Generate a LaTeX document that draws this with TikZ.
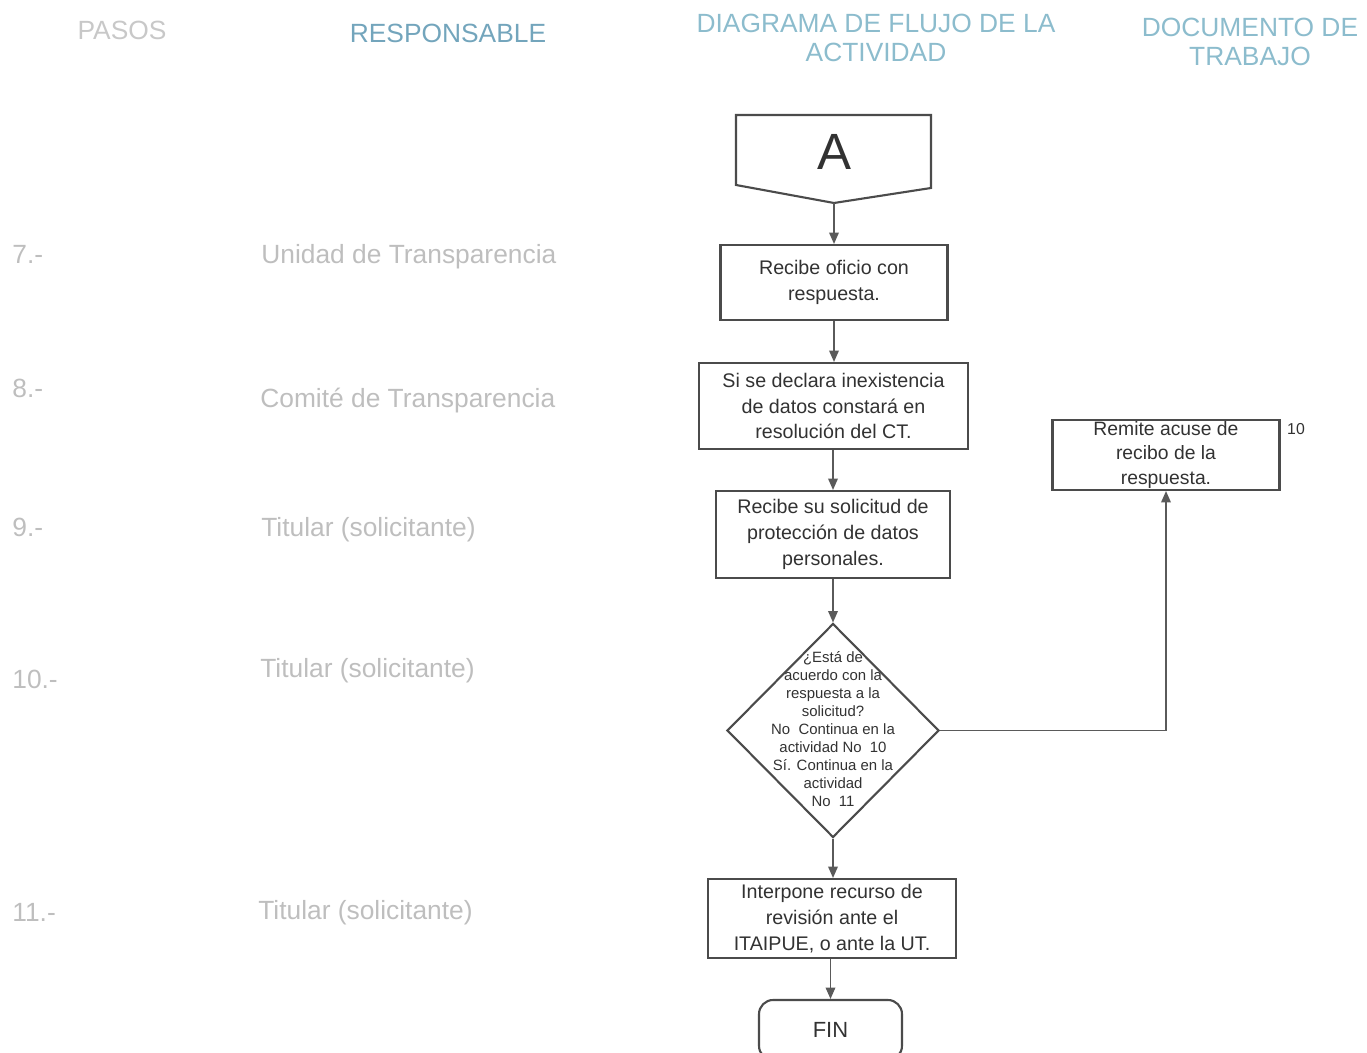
\documentclass[tikz,border=0pt]{standalone}
\usepackage{fontspec}
\setmainfont{Liberation Sans}
\usetikzlibrary{shapes.geometric,arrows.meta}
\definecolor{hdrteal}{RGB}{140,188,205}
\definecolor{hdrteal2}{RGB}{115,165,188}
\definecolor{hdrgray}{RGB}{200,200,200}
\definecolor{leftgray}{RGB}{190,190,190}
\definecolor{boxline}{RGB}{75,75,75}
\definecolor{boxtext}{RGB}{50,50,50}
\definecolor{conline}{RGB}{90,90,90}
\begin{document}
\begin{tikzpicture}[x=0.02cm,y=-0.02cm,
  hdr/.style={font=\fontsize{15}{17}\selectfont, align=center, inner sep=0pt},
  lefttxt/.style={font=\fontsize{15}{17}\selectfont, text=leftgray, anchor=west, inner sep=0pt},
  procbox/.style={draw=boxline, line width=1.2pt, rectangle, align=center, text=boxtext,
     font=\fontsize{11.2}{14.7}\selectfont, inner sep=2pt},
  conn/.style={draw=conline, line width=0.8pt, -{Triangle[length=6.5pt,width=5.5pt]}}
]
\useasboundingbox (0,0) rectangle (1367,1053);
% headers
\node[hdr, text=hdrgray] (hpasos) at (122,30) {PASOS};
\node[hdr, text=hdrteal2] (hresp) at (448,33) {RESPONSABLE};
\node[hdr, text=hdrteal] (hdiag) at (876,38) {DIAGRAMA DE FLUJO DE LA\\[0pt]ACTIVIDAD};
\node[hdr, text=hdrteal] (hdoc) at (1250,42) {DOCUMENTO DE\\[0pt]TRABAJO};
% left columns
\node[lefttxt] (p7) at (12,254) {7.-};
\node[lefttxt] (r7) at (261,257) {Unidad de Transparencia};
\node[lefttxt] (p8) at (12,388) {8.-};
\node[lefttxt] (r8) at (260,401) {Comité de Transparencia};
\node[lefttxt] (p9) at (12,527) {9.-};
\node[lefttxt] (r9) at (261,530) {Titular (solicitante)};
\node[lefttxt] (p10) at (12,679) {10.-};
\node[lefttxt] (r10) at (260,671) {Titular (solicitante)};
\node[lefttxt] (p11) at (12,912) {11.-};
\node[lefttxt] (r11) at (258,913) {Titular (solicitante)};
% off-page connector A
\draw[boxline, line width=1.2pt] (736,115) -- (931,115) -- (931,188) -- (834,203) -- (736,185) -- cycle;
\coordinate (Abot) at (834,203);
\node[text=boxtext, font=\fontsize{29}{32}\selectfont] (A) at (834,152) {A};
% boxes
\node[procbox, minimum width=4.54cm, minimum height=1.5cm] (b1) at (834,282.5) {Recibe oficio con\\respuesta.};
\node[procbox, minimum width=5.38cm, minimum height=1.72cm] (b2) at (833.5,406) {Si se declara inexistencia\\de datos constará en\\resolución del CT.};
\node[procbox, minimum width=4.68cm, minimum height=1.74cm] (b3) at (833,534.5) {Recibe su solicitud de\\protección de datos\\personales.};
\node[draw=boxline, line width=1.2pt, diamond, minimum width=4.24cm, minimum height=4.28cm, inner sep=0pt] (d) at (833,730.5) {};
\node[align=center, text=boxtext, font=\fontsize{8.5}{10.2}\selectfont, inner sep=0pt] (dtext) at (833,729)
  {¿Está de\\acuerdo con la\\respuesta a la\\solicitud?\\No\ \ Continua en la\\actividad No\ \ 10\\Sí. Continua en la\\actividad\\No\ \ 11};
\node[procbox, minimum width=4.96cm, minimum height=1.58cm] (b4) at (832,918.5) {Interpone recurso de\\revisión ante el\\ITAIPUE, o ante la UT.};
\node[draw=boxline, line width=1.2pt, rounded corners=8pt, minimum width=2.86cm, minimum height=1.2cm, text=boxtext, font=\fontsize{12.5}{14}\selectfont, inner sep=0pt] (fin) at (830.5,1030) {FIN};
\node[procbox, font=\fontsize{11}{14}\selectfont, inner sep=0pt, minimum width=4.54cm, minimum height=1.4cm] (side) at (1166,455) {Remite acuse de\\recibo de la\\respuesta.};
\node[text=boxtext, font=\fontsize{9}{10}\selectfont, inner sep=0pt] (n10) at (1296,429) {10};
% connectors
\draw[conn] (Abot) -- (Abot |- b1.north);
\draw[conn] (b1.south) -- (b1.south |- b2.north);
\draw[conn] (b3.north |- b2.south) -- (b3.north);
\draw[conn] (b3.south) -- (d.north);
\draw[conn] (d.south) -- (d.south |- b4.north);
\draw[conn] (fin.north |- b4.south) -- (fin.north);
\draw[conn] (d.east) -| (side.south);
\end{tikzpicture}
\end{document}
